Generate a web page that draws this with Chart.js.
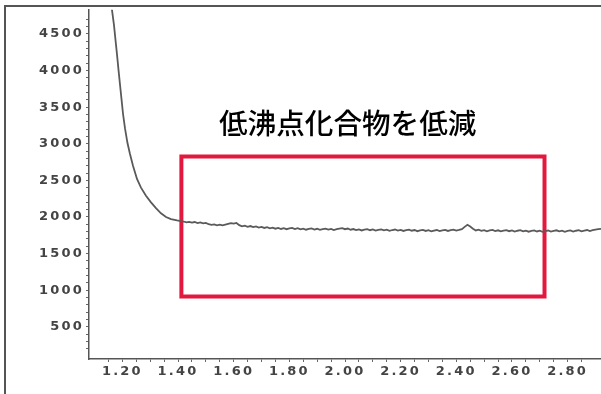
<!DOCTYPE html>
<html>
<head>
<meta charset="utf-8">
<script src="https://cdn.jsdelivr.net/npm/chart.js@4/dist/chart.umd.min.js"></script>
<style>
  html, body { margin: 0; padding: 0; background: #ffffff; }
  #wrap { position: relative; width: 601px; height: 394px; overflow: hidden; background: #ffffff; }
  #frame { position: absolute; left: 4px; top: 5px; width: 600px; height: 400px;
           border-left: 2px solid #555; border-top: 2px solid #555; box-sizing: border-box; }
  #c { position: absolute; left: 0; top: 0; }
  #caption { position: absolute; left: 219px; top: 108px; font-family: "Noto Sans CJK JP", sans-serif;
             font-size: 28.6px; line-height: 28px; font-weight: 500; color: #000; white-space: nowrap; }
</style>
</head>
<body>
<div id="wrap">
  <div id="frame"></div>
  <canvas id="c" width="601" height="394"></canvas>
  <div id="caption">低沸点化合物を低減</div>
</div>
<script>
// ---- data ----
const curveX = [
  1.158, 1.1626, 1.1698, 1.1752, 1.1806, 1.1860, 1.1914, 1.1968, 1.2022, 1.2094,
  1.2183, 1.2273, 1.2381, 1.2525, 1.2668, 1.2848, 1.3028, 1.3207, 1.3387, 1.3567,
  1.3746, 1.3962, 1.4100,
  1.42, 1.43, 1.44, 1.45, 1.46, 1.47, 1.48, 1.49, 1.50, 1.51,
  1.52, 1.53, 1.54, 1.55, 1.56, 1.57, 1.58, 1.59, 1.60, 1.61,
  1.62, 1.63, 1.64, 1.65, 1.66, 1.67, 1.68, 1.69, 1.70, 1.71,
  1.72, 1.73, 1.74, 1.75, 1.76, 1.77, 1.78, 1.79, 1.80, 1.81,
  1.82, 1.83, 1.84, 1.85, 1.86, 1.87, 1.88, 1.89, 1.90, 1.91,
  1.92, 1.93, 1.94, 1.95, 1.96, 1.97, 1.98, 1.99, 2.00, 2.01,
  2.02, 2.03, 2.04, 2.05, 2.06, 2.07, 2.08, 2.09, 2.10, 2.11,
  2.12, 2.13, 2.14, 2.15, 2.16, 2.17, 2.18, 2.19, 2.20, 2.21,
  2.22, 2.23, 2.24, 2.25, 2.26, 2.27, 2.28, 2.29, 2.30, 2.31,
  2.32, 2.33, 2.34, 2.35, 2.36, 2.37, 2.38, 2.39, 2.40, 2.41,
  2.42, 2.43, 2.44, 2.45, 2.46, 2.47, 2.48, 2.49, 2.50, 2.51,
  2.52, 2.53, 2.54, 2.55, 2.56, 2.57, 2.58, 2.59, 2.60, 2.61,
  2.62, 2.63, 2.64, 2.65, 2.66, 2.67, 2.68, 2.69, 2.70, 2.71,
  2.72, 2.73, 2.74, 2.75, 2.76, 2.77, 2.78, 2.79, 2.80, 2.81,
  2.82, 2.83, 2.84, 2.85, 2.86, 2.87, 2.88, 2.89, 2.90, 2.91,
  2.92
];
const curveY = [
  5000, 4830, 4620, 4420, 4220, 4010, 3810, 3610, 3410, 3210,
  3010, 2860, 2700, 2520, 2400, 2290, 2200, 2120, 2050, 2000,
  1972, 1952, 1943,
  1938, 1926, 1934, 1922, 1931, 1917, 1926, 1912, 1920, 1901,
  1893, 1899, 1886, 1894, 1885, 1896, 1906, 1916, 1909, 1918,
  1889, 1872, 1882, 1866, 1876, 1861, 1870, 1855, 1865, 1850,
  1860, 1846, 1855, 1840, 1851, 1836, 1847, 1833, 1844, 1850,
  1835, 1846, 1831, 1841, 1826, 1837, 1843, 1828, 1839, 1824,
  1835, 1841, 1827, 1837, 1822, 1833, 1840, 1847, 1833, 1842,
  1826, 1835, 1820, 1831, 1816, 1827, 1834, 1819, 1830, 1814,
  1825, 1831, 1817, 1827, 1811, 1822, 1829, 1814, 1824, 1809,
  1820, 1827, 1812, 1822, 1806, 1817, 1824, 1809, 1819, 1804,
  1815, 1822, 1807, 1817, 1824, 1809, 1819, 1827, 1813, 1823,
  1834, 1865, 1893, 1870, 1840, 1816, 1826, 1810, 1821, 1805,
  1816, 1823, 1808, 1818, 1803, 1814, 1821, 1806, 1816, 1801,
  1812, 1819, 1804, 1814, 1799, 1810, 1817, 1802, 1812, 1797,
  1808, 1815, 1800, 1811, 1818, 1803, 1813, 1798, 1809, 1816,
  1801, 1812, 1819, 1804, 1815, 1822, 1808, 1819, 1827, 1834,
  1838
];
// highlighted region (red rectangle) in data units
const boxX = [1.412, 2.717];
const boxY = [914, 2825];
// tick labels
const yTickLabels = [500, 1000, 1500, 2000, 2500, 3000, 3500, 4000, 4500];
const xTickLabels = ['1.20', '1.40', '1.60', '1.80', '2.00', '2.20', '2.40', '2.60', '2.80'];
// axis ranges
const xRange = [1.08, 2.92];
const yRange = [60, 4830];

const curveData = curveX.map((x, i) => ({ x: x, y: curveY[i] }));
const boxData = [
  { x: boxX[0], y: boxY[1] }, { x: boxX[1], y: boxY[1] },
  { x: boxX[1], y: boxY[0] }, { x: boxX[0], y: boxY[0] },
  { x: boxX[0], y: boxY[1] }
];

const spacingPlugin = {
  id: 'spacing',
  beforeDraw(chart) { chart.ctx.letterSpacing = '2.2px'; }
};

const tickFont = { family: 'DejaVu Sans', weight: 'bold', size: 13 };

new Chart(document.getElementById('c'), {
  type: 'scatter',
  data: {
    datasets: [
      { data: curveData, showLine: true, borderColor: '#5a5a5a', borderWidth: 1.8,
        pointRadius: 0, tension: 0, fill: false },
      { data: boxData, showLine: true, borderColor: '#e2183f', borderWidth: 4,
        pointRadius: 0, tension: 0, fill: false, borderJoinStyle: 'miter', borderCapStyle: 'square' }
    ]
  },
  options: {
    responsive: false,
    devicePixelRatio: 1,
    animation: false,
    events: [],
    layout: { padding: { left: 0, top: 7, right: 0, bottom: 0 } },
    plugins: { legend: { display: false }, tooltip: { enabled: false }, title: { display: false } },
    scales: {
      x: {
        type: 'linear', min: xRange[0], max: xRange[1],
        afterFit(s) { s.height = 35; },
        afterBuildTicks(s) {
          s.ticks = s.ticks.filter(t => Math.abs(t.value * 20 - Math.round(t.value * 20)) < 1e-6);
        },
        ticks: {
          stepSize: 0.05, autoSkip: false, maxRotation: 0, minRotation: 0, padding: 2,
          color: '#444', font: tickFont,
          callback(v) {
            const s = Number(v).toFixed(2);
            return xTickLabels.includes(s) ? s : '';
          }
        },
        grid: { drawOnChartArea: false, tickLength: 3, color: '#666', lineWidth: 1 },
        border: { display: true, color: '#555', width: 1.5 }
      },
      y: {
        type: 'linear', min: yRange[0], max: yRange[1],
        afterFit(s) { s.width = 89; },
        afterBuildTicks(s) {
          s.ticks = s.ticks.filter(t => Math.abs(t.value / 100 - Math.round(t.value / 100)) < 1e-6);
        },
        ticks: {
          stepSize: 100, autoSkip: false, padding: 2,
          color: '#444', font: tickFont,
          callback(v) {
            return yTickLabels.includes(Math.round(v)) ? String(Math.round(v)) : '';
          }
        },
        grid: { drawOnChartArea: false, tickLength: 3, color: '#666', lineWidth: 1 },
        border: { display: true, color: '#555', width: 1.5 }
      }
    }
  },
  plugins: [spacingPlugin]
});
</script>
</body>
</html>
